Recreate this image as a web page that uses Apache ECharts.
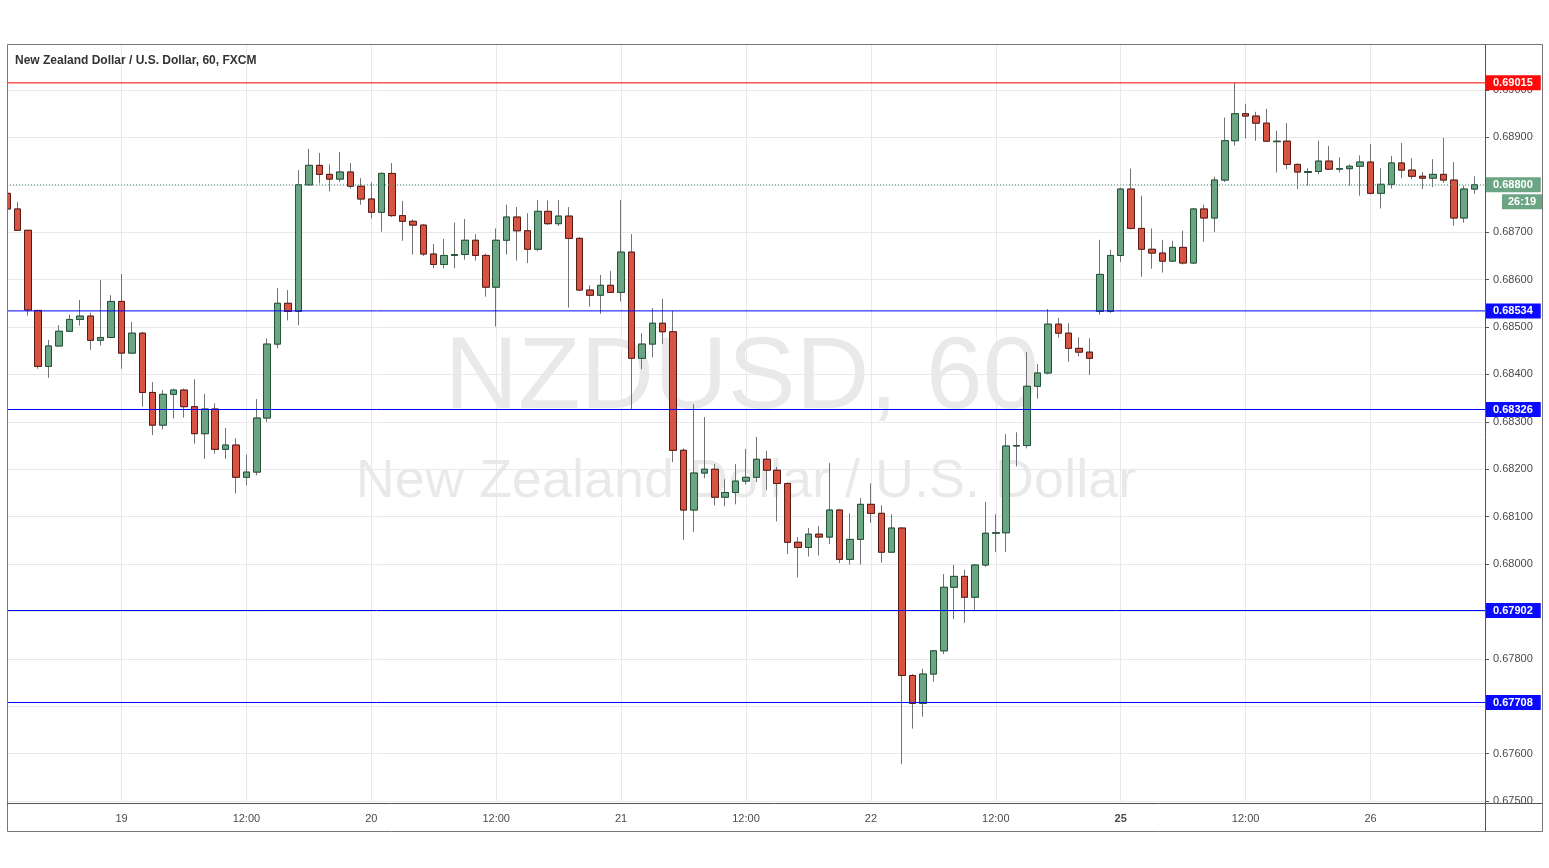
<!DOCTYPE html>
<html>
<head>
<meta charset="utf-8">
<script src="https://cdn.jsdelivr.net/npm/echarts@6/dist/echarts.min.js"></script>
<style>
html,body{margin:0;padding:0;background:#ffffff;}
#c{width:1549px;height:868px;}
</style>
</head>
<body>
<div id="c"></div>
<script>
// ---- DATA ----
// hourly sessions: [day, start hour, number of candles]
const sessions = [[18, 13, 105], [24, 22, 37]];
const opens = [
0.68782,0.68749,0.68704,0.68535,0.68417,0.68460,0.68491,0.68516,0.68523,0.68472,
0.68478,0.68554,0.68445,0.68487,0.68362,0.68293,0.68358,0.68367,0.68332,0.68275,
0.68327,0.68242,0.68251,0.68183,0.68194,0.68308,0.68464,0.68550,0.68533,0.68800,
0.68841,0.68822,0.68812,0.68827,0.68797,0.68770,0.68742,0.68824,0.68735,0.68723,
0.68715,0.68654,0.68632,0.68651,0.68653,0.68683,0.68651,0.68584,0.68683,0.68732,
0.68703,0.68664,0.68744,0.68718,0.68734,0.68687,0.68578,0.68567,0.68588,0.68573,
0.68658,0.68434,0.68464,0.68508,0.68490,0.68240,0.68114,0.68192,0.68200,0.68141,
0.68151,0.68175,0.68183,0.68221,0.68198,0.68170,0.68046,0.68035,0.68063,0.68057,
0.68114,0.68010,0.68052,0.68126,0.68107,0.68025,0.68076,0.67765,0.67706,0.67768,
0.67817,0.67951,0.67974,0.67930,0.67998,0.68065,0.68066,0.68249,0.68250,0.68375,
0.68403,0.68506,0.68487,0.68455,0.68447,0.68533,0.68533,0.68651,0.68791,0.68708,
0.68664,0.68656,0.68639,0.68668,0.68635,0.68749,0.68730,0.68810,0.68893,0.68950,
0.68945,0.68930,0.68891,0.68892,0.68843,0.68826,0.68828,0.68850,0.68833,0.68834,
0.68839,0.68848,0.68782,0.68801,0.68846,0.68831,0.68818,0.68814,0.68822,0.68810,
0.68730,0.68791];
const closes = [
0.68749,0.68704,0.68536,0.68417,0.68460,0.68491,0.68516,0.68523,0.68472,0.68478,
0.68554,0.68445,0.68487,0.68362,0.68293,0.68358,0.68367,0.68332,0.68275,0.68327,
0.68242,0.68251,0.68183,0.68194,0.68308,0.68464,0.68550,0.68533,0.68800,0.68841,
0.68822,0.68812,0.68827,0.68797,0.68770,0.68742,0.68824,0.68735,0.68723,0.68715,
0.68654,0.68632,0.68651,0.68653,0.68683,0.68651,0.68584,0.68683,0.68732,0.68703,
0.68664,0.68744,0.68718,0.68734,0.68687,0.68578,0.68567,0.68588,0.68573,0.68658,
0.68434,0.68464,0.68508,0.68490,0.68240,0.68114,0.68192,0.68200,0.68141,0.68151,
0.68175,0.68183,0.68221,0.68198,0.68170,0.68046,0.68035,0.68063,0.68057,0.68114,
0.68010,0.68052,0.68126,0.68107,0.68025,0.68076,0.67765,0.67706,0.67768,0.67817,
0.67951,0.67974,0.67930,0.67998,0.68065,0.68066,0.68249,0.68250,0.68375,0.68403,
0.68506,0.68487,0.68455,0.68447,0.68434,0.68611,0.68651,0.68791,0.68708,0.68664,
0.68656,0.68639,0.68668,0.68635,0.68749,0.68730,0.68810,0.68893,0.68950,0.68945,
0.68930,0.68892,0.68892,0.68843,0.68827,0.68828,0.68850,0.68833,0.68834,0.68839,
0.68848,0.68782,0.68801,0.68846,0.68831,0.68818,0.68814,0.68822,0.68810,0.68730,
0.68791,0.68800];
const lows = [
0.68745,0.68703,0.68524,0.68412,0.68393,0.68460,0.68491,0.68503,0.68452,0.68461,
0.68478,0.68412,0.68443,0.68332,0.68272,0.68284,0.68307,0.68309,0.68254,0.68222,
0.68233,0.68222,0.68149,0.68166,0.68187,0.68300,0.68455,0.68514,0.68504,0.68798,
0.68803,0.68786,0.68806,0.68792,0.68758,0.68729,0.68701,0.68732,0.68682,0.68653,
0.68650,0.68624,0.68624,0.68624,0.68642,0.68640,0.68564,0.68501,0.68653,0.68640,
0.68635,0.68660,0.68715,0.68713,0.68541,0.68576,0.68543,0.68528,0.68572,0.68554,
0.68327,0.68411,0.68436,0.68464,0.68215,0.68051,0.68068,0.68181,0.68124,0.68122,
0.68126,0.68168,0.68173,0.68156,0.68090,0.68021,0.67972,0.68016,0.68018,0.68042,
0.68002,0.67999,0.67999,0.68087,0.68003,0.68024,0.67578,0.67653,0.67678,0.67752,
0.67810,0.67884,0.67876,0.67903,0.67994,0.68025,0.68025,0.68206,0.68244,0.68349,
0.68400,0.68478,0.68427,0.68438,0.68399,0.68526,0.68530,0.68637,0.68706,0.68606,
0.68623,0.68615,0.68637,0.68632,0.68633,0.68680,0.68700,0.68806,0.68883,0.68898,
0.68893,0.68890,0.68826,0.68833,0.68791,0.68798,0.68822,0.68831,0.68826,0.68798,
0.68777,0.68780,0.68750,0.68792,0.68814,0.68812,0.68791,0.68795,0.68804,0.68714,
0.68720,0.68781];
const highs = [
0.68790,0.68764,0.68704,0.68535,0.68473,0.68504,0.68526,0.68557,0.68530,0.68599,
0.68567,0.68612,0.68511,0.68490,0.68384,0.68367,0.68370,0.68370,0.68390,0.68359,
0.68339,0.68287,0.68265,0.68231,0.68348,0.68476,0.68582,0.68578,0.68831,0.68876,
0.68867,0.68843,0.68869,0.68846,0.68814,0.68805,0.68826,0.68846,0.68766,0.68727,
0.68717,0.68675,0.68686,0.68720,0.68728,0.68696,0.68655,0.68708,0.68758,0.68753,
0.68740,0.68768,0.68767,0.68768,0.68753,0.68689,0.68588,0.68610,0.68618,0.68768,
0.68696,0.68487,0.68540,0.68560,0.68534,0.68244,0.68337,0.68310,0.68211,0.68179,
0.68211,0.68243,0.68268,0.68239,0.68205,0.68172,0.68057,0.68076,0.68080,0.68213,
0.68116,0.68107,0.68139,0.68170,0.68124,0.68105,0.68078,0.67768,0.67779,0.67819,
0.67979,0.67998,0.67988,0.68000,0.68131,0.68105,0.68274,0.68278,0.68447,0.68422,
0.68538,0.68519,0.68508,0.68478,0.68476,0.68684,0.68663,0.68794,0.68834,0.68777,
0.68708,0.68684,0.68682,0.68703,0.68751,0.68758,0.68817,0.68942,0.69015,0.68971,
0.68954,0.68960,0.68914,0.68930,0.68845,0.68835,0.68893,0.68882,0.68858,0.68843,
0.68862,0.68886,0.68835,0.68861,0.68888,0.68856,0.68827,0.68854,0.68899,0.68848,
0.68798,0.68818];
// horizontal levels drawn on the chart
const resistanceLevels = [0.69015];
const supportLevels = [0.68534, 0.68326, 0.67902, 0.67708];
const countdown = '26:19';
const titleText = 'New Zealand Dollar / U.S. Dollar, 60, FXCM';
const symbolText = 'NZDUSD, 60';
const nameText = 'New Zealand Dollar / U.S. Dollar';
const priceMin = 0.675, priceMax = 0.69097, priceStep = 0.001;

// ---- BUILD ----
const categories = [];
const boldDays = {};
sessions.forEach(([day, hour, count], s) => {
  let d = day, h = hour;
  for (let k = 0; k < count; k++) {
    let lab = '';
    if (h === 0) { lab = String(d); if (s > 0 && !boldDays.done) { boldDays[String(d)] = true; boldDays.done = true; } }
    else if (h === 12) lab = '12:00';
    categories.push(lab);
    h++; if (h === 24) { h = 0; d++; }
  }
});
categories.push('');
const catKeys = categories.map((c, i) => i + '|' + c);
const lastCat = catKeys.length - 1;

const wickData = opens.map((o, i) => [o, closes[i], lows[i], highs[i]]);
const bodyData = opens.map((o, i) => [o, closes[i], Math.min(o, closes[i]), Math.max(o, closes[i])]);

const upFill = '#6ba583', upBorder = '#225437', dnFill = '#d75442', dnBorder = '#5b1a13', wickCol = '#737375';
const FONT = '"Liberation Sans", Arial, sans-serif';

function levelSeries(v, lineCol, boxCol, type, text, offset, hideLine) {
  return {
    type: 'line', data: [[0, v], [lastCat, v]], silent: true, symbol: 'none', showSymbol: false,
    clip: false, z: 3, animation: false,
    lineStyle: { color: lineCol, width: 1, type: type || 'solid', opacity: hideLine ? 0 : 1 },
    itemStyle: { color: lineCol },
    endLabel: {
      show: true, distance: 1, offset: offset || [0, 0],
      formatter: () => text != null ? text : v.toFixed(5),
      color: '#ffffff', fontWeight: 'bold', fontSize: 11, fontFamily: FONT,
      backgroundColor: boxCol, padding: text != null ? [2, 6, 1, 6] : [2, 8, 1, 7], lineHeight: 12
    }
  };
}
const lastPrice = closes[closes.length - 1];
const levelSeriesList = [];
resistanceLevels.forEach(v => levelSeriesList.push(levelSeries(v, '#ff0000', '#ff0a0a')));
supportLevels.forEach(v => levelSeriesList.push(levelSeries(v, '#0000ff', '#0a0aff')));
levelSeriesList.push(levelSeries(lastPrice, '#4f9a78', upFill, [1, 2]));
levelSeriesList.push(levelSeries(lastPrice, '#4f9a78', upFill, 'solid', countdown, [16, 17], true));

const chart = echarts.init(document.getElementById('c'), null, { renderer: 'canvas' });
chart.setOption({
  animation: false,
  backgroundColor: '#ffffff',
  grid: { left: 7, right: 64, top: 44, bottom: 66.9, containLabel: false },
  xAxis: {
    type: 'category', data: catKeys, boundaryGap: false,
    axisLine: { show: false }, axisTick: { show: false },
    axisLabel: {
      interval: (i, v) => v.split('|')[1] !== '',
      formatter: v => { const t = v.split('|')[1]; return boldDays[t] ? '{b|' + t + '}' : t; },
      color: '#4a4a4a', fontSize: 11, fontFamily: FONT, margin: 12,
      rich: { b: { fontWeight: 'bold', color: '#4a4a4a', fontSize: 11, fontFamily: FONT } }
    },
    splitLine: { show: true, interval: (i, v) => v.split('|')[1] !== '', lineStyle: { color: '#e9e9e9', width: 1 } }
  },
  yAxis: {
    type: 'value', position: 'right', min: priceMin, max: priceMax, interval: priceStep, scale: true,
    axisLine: { show: false },
    axisTick: { show: true, length: 4, lineStyle: { color: '#555' } },
    axisLabel: { formatter: v => v.toFixed(5), color: '#4a4a4a', fontSize: 11, fontFamily: FONT, margin: 8, showMaxLabel: false },
    splitLine: { show: true, lineStyle: { color: '#e9e9e9', width: 1 } }
  },
  graphic: [
    { type: 'text', x: 742, y: 380, z: 0, silent: true,
      style: { text: symbolText, font: '102px ' + FONT, fill: 'rgba(0,0,0,0.085)', align: 'center', verticalAlign: 'middle', textAlign: 'center', textVerticalAlign: 'middle' } },
    { type: 'text', x: 746, y: 482, z: 0, silent: true,
      style: { text: nameText, font: '54px ' + FONT, fill: 'rgba(0,0,0,0.085)', align: 'center', verticalAlign: 'middle', textAlign: 'center', textVerticalAlign: 'middle' } },
    { type: 'text', x: 15, y: 61, z: 50, silent: true,
      style: { text: titleText, font: 'bold 12px ' + FONT, fill: '#333333', verticalAlign: 'middle', textVerticalAlign: 'middle' } },
    { type: 'rect', z: 40, silent: true, shape: { x: 0, y: 44, width: 7.5, height: 760 }, style: { fill: '#ffffff' } },
    { type: 'rect', z: 40, silent: true, shape: { x: 1486, y: 804, width: 56, height: 27 }, style: { fill: '#ffffff' } },
    { type: 'rect', z: 41, silent: true, shape: { x: 7.5, y: 44.5, width: 1535, height: 787 }, style: { fill: 'none', stroke: '#777777', lineWidth: 1 } },
    { type: 'line', z: 41, silent: true, shape: { x1: 1485.5, y1: 44, x2: 1485.5, y2: 831 }, style: { stroke: '#555555', lineWidth: 1 } },
    { type: 'line', z: 41, silent: true, shape: { x1: 7, y1: 803.5, x2: 1542, y2: 803.5 }, style: { stroke: '#555555', lineWidth: 1 } }
  ],
  series: [
    { type: 'candlestick', name: 'wick', data: wickData, barWidth: 7, clip: true, silent: true,
      itemStyle: { color: 'rgba(0,0,0,0)', color0: 'rgba(0,0,0,0)', borderColor: wickCol, borderColor0: wickCol, borderWidth: 1 } },
    { type: 'candlestick', name: 'body', data: bodyData, barWidth: 7, clip: true, silent: true,
      itemStyle: { color: upFill, color0: dnFill, borderColor: upBorder, borderColor0: dnBorder, borderWidth: 1 } }
  ].concat(levelSeriesList)
});
</script>
</body>
</html>
